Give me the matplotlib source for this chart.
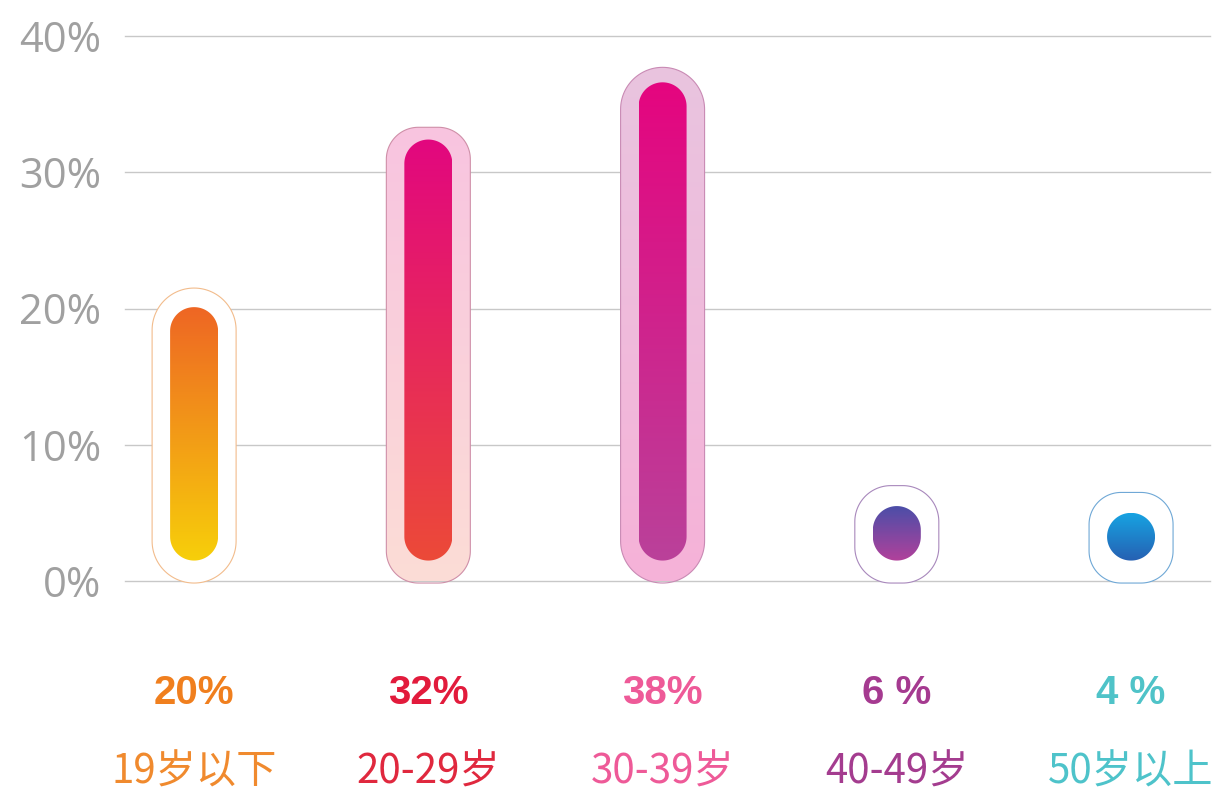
import numpy as np
import matplotlib
matplotlib.use('Agg')
import matplotlib.pyplot as plt
from matplotlib.patches import Polygon
from matplotlib.colors import LinearSegmentedColormap

# Data
categories = ['19岁以下', '20-29岁', '30-39岁', '40-49岁', '50岁以上']
pct_labels = ['20%', '32%', '38%', '6 %', '4 %']
bar_top = [20.1, 32.4, 36.6, 5.5, 5.0]      # top of the inner bar (%)
shell_top = [21.5, 33.3, 37.7, 7.0, 6.5]    # top of the outer capsule (%)
bar_base = 1.5
shell_base = -0.15
yticks = [0, 10, 20, 30, 40]
ytick_labels = ['0%', '10%', '20%', '30%', '40%']

# Styles
inner_colors = [('#F7CF0A', '#EE6624'), ('#EC4A38', '#E2077F'), ('#BA419A', '#E5057F'),
                ('#B2419B', '#4B4EA8'), ('#2660B2', '#17A3E2')]
shell_fill = [None, ('#FCDDD6', '#F8C4E0'), ('#F6B2D8', '#E9C4DF'), None, None]
shell_edge = ['#F2BC8C', '#CF8FA8', '#C98AB4', '#A888BC', '#6FA8D6']
shell_radius = [42, 32, 42, 36, 32]   # px
label_colors = ['#F08A2E', '#E0283E', '#EE5A98', '#A43C8F', '#4EC3CA']
pct_colors = ['#F07F1E', '#E21B3C', '#EE5A98', '#A53A90', '#4FC3C8']

W, H = 1224, 791
fig = plt.figure(figsize=(W / 100, H / 100), dpi=100)
ax = fig.add_axes([125 / W, 210 / H, (1210 - 125) / W, 545 / H])

x = np.arange(len(categories))
x_left, x_right = -0.295, 4.337
ax.set_xlim(x_left, x_right)
ax.set_ylim(0, 40)

px_per_x = (1210 - 125) / (x_right - x_left)
px_per_y = 545 / 40

inner_w = 48 / px_per_x
shell_w = 84 / px_per_x


def capsule(xc, w, y0, y1, r_px, **kw):
    # rounded rectangle with circular corners (in screen pixels)
    r_px = min(r_px, w * px_per_x / 2, (y1 - y0) * px_per_y / 2)
    rx, ry = r_px / px_per_x, r_px / px_per_y
    t = np.linspace(0, np.pi / 2, 30)
    xl, xr = xc - w / 2 + rx, xc + w / 2 - rx
    yb, yt = y0 + ry, y1 - ry
    pts = np.vstack([
        np.column_stack([xr + rx * np.cos(t), yt + ry * np.sin(t)]),
        np.column_stack([xl - rx * np.sin(t), yt + ry * np.cos(t)]),
        np.column_stack([xl - rx * np.cos(t), yb - ry * np.sin(t)]),
        np.column_stack([xr + rx * np.sin(t), yb - ry * np.cos(t)]),
    ])
    p = Polygon(pts, closed=True, clip_on=False, **kw)
    ax.add_patch(p)
    return p


def gradient(patch, xc, w, y0, y1, c_bottom, c_top, z):
    cmap = LinearSegmentedColormap.from_list('g', [c_bottom, c_top])
    img = ax.imshow(np.linspace(0, 1, 256).reshape(-1, 1), cmap=cmap, origin='lower',
                    extent=[xc - w / 2, xc + w / 2, y0, y1], aspect='auto',
                    zorder=z, interpolation='bilinear')
    img.set_clip_box(None)
    img.set_clip_path(patch)


for i in range(len(categories)):
    # outer capsule
    if shell_fill[i] is None:
        capsule(x[i], shell_w, shell_base, shell_top[i], shell_radius[i],
                facecolor='white', edgecolor=shell_edge[i], linewidth=0.8, zorder=2)
    else:
        sp = capsule(x[i], shell_w, shell_base, shell_top[i], shell_radius[i],
                     facecolor='none', edgecolor='none', zorder=2)
        gradient(sp, x[i], shell_w, shell_base, shell_top[i], shell_fill[i][0], shell_fill[i][1], 2.1)
        capsule(x[i], shell_w, shell_base, shell_top[i], shell_radius[i],
                facecolor='none', edgecolor=shell_edge[i], linewidth=0.8, zorder=2.2)
    # inner bar
    ip = capsule(x[i], inner_w, bar_base, bar_top[i], 24,
                 facecolor='none', edgecolor='none', zorder=3)
    gradient(ip, x[i], inner_w, bar_base, bar_top[i], inner_colors[i][0], inner_colors[i][1], 3.1)

    ax.text(x[i], -8.2, pct_labels[i], ha='center', va='center', fontsize=29,
            fontweight='bold', color=pct_colors[i], family=['Liberation Sans', 'DejaVu Sans'])
    ax.text(x[i], -14.0, categories[i], ha='center', va='center', fontsize=29,
            color=label_colors[i], family=['Noto Sans CJK SC', 'DejaVu Sans'])

ax.set_yticks(yticks)
ax.set_yticklabels(ytick_labels, fontsize=30, color='#A0A0A0', family='Open Sans')
ax.set_xticks([])
ax.tick_params(axis='y', length=0, pad=17)
ax.grid(axis='y', color='#C8C8C8', linewidth=1)
for gl in ax.get_ygridlines():
    gl.set_clip_on(False)
ax.set_axisbelow(True)
for s in ax.spines.values():
    s.set_visible(False)

fig.savefig('out.png', dpi=100)
